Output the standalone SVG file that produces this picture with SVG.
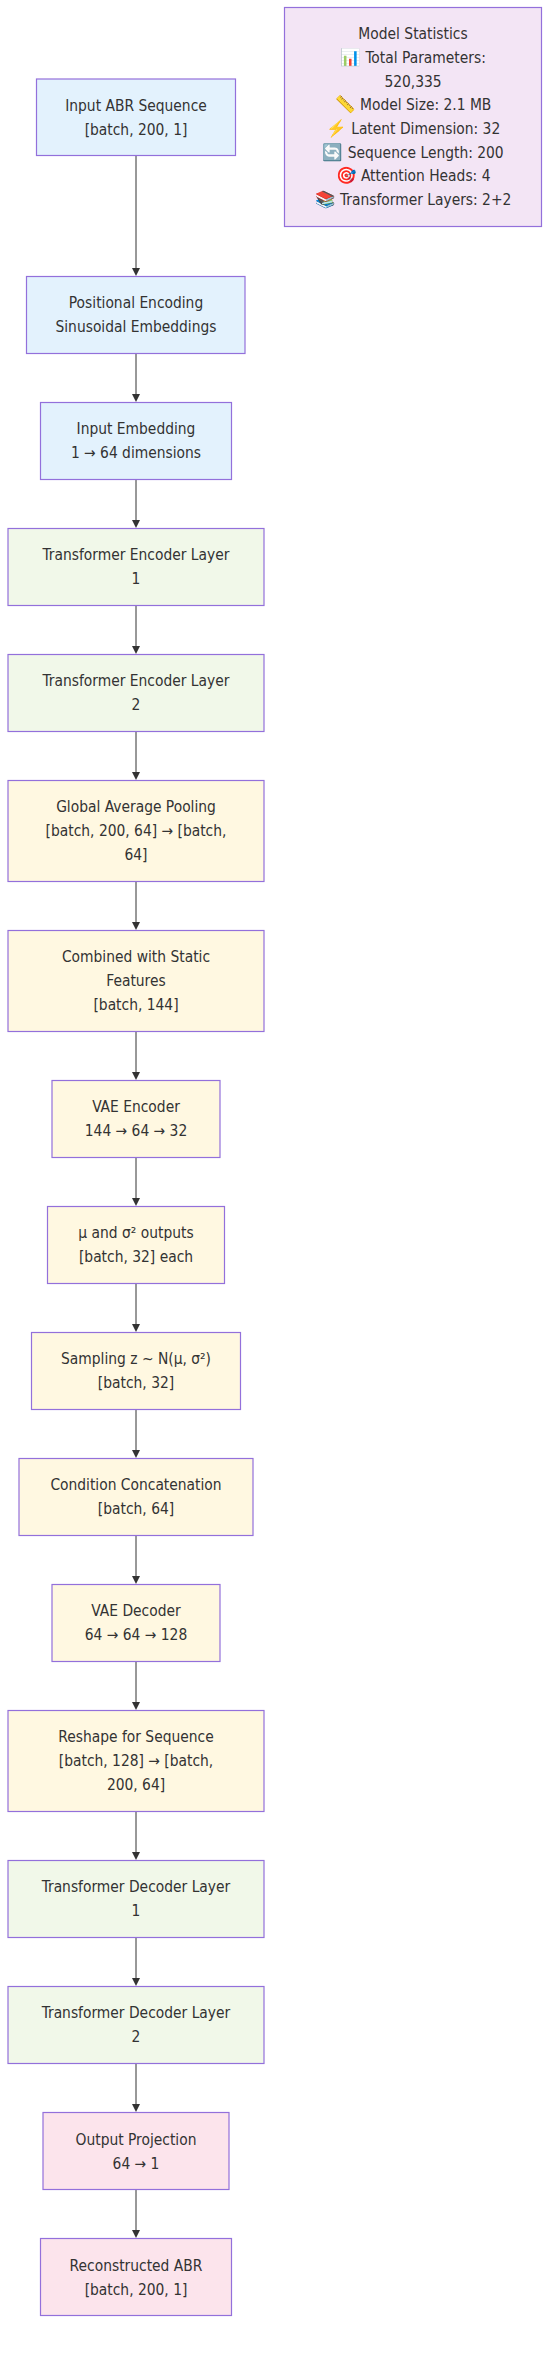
<svg xmlns="http://www.w3.org/2000/svg" width="557" height="2358" viewBox="0 0 557 2358">
<style>
text{font-family:"DejaVu Sans Condensed","DejaVu Sans",sans-serif;font-stretch:condensed;font-size:15.4px;fill:#333;text-anchor:middle}
.i{font-size:16.5px}
.n{stroke:#9370DB;stroke-width:1.2}
.b{fill:#e3f2fd}.g{fill:#f1f8e9}.y{fill:#fff8e1}.p{fill:#fce4ec}.m{fill:#f3e5f5}
.e{fill:none;stroke:#333;stroke-width:1}
.h{fill:#333}
</style>
<g id="connectors">
<path class="e" d="M136 156V272"/><path class="e" d="M136 353V398"/><path class="e" d="M136 479V524"/><path class="e" d="M136 605V650"/><path class="e" d="M136 731V776"/><path class="e" d="M136 881V926"/><path class="e" d="M136 1031V1076"/><path class="e" d="M136 1157V1202"/><path class="e" d="M136 1283V1328"/><path class="e" d="M136 1409V1454"/><path class="e" d="M136 1535V1580"/><path class="e" d="M136 1661V1706"/><path class="e" d="M136 1811V1856"/><path class="e" d="M136 1937V1982"/><path class="e" d="M136 2063V2108"/><path class="e" d="M136 2189V2234"/>
<path class="h" d="M132 268L140 268L136 276z"/><path class="h" d="M132 394L140 394L136 402z"/><path class="h" d="M132 520L140 520L136 528z"/><path class="h" d="M132 646L140 646L136 654z"/><path class="h" d="M132 772L140 772L136 780z"/><path class="h" d="M132 922L140 922L136 930z"/><path class="h" d="M132 1072L140 1072L136 1080z"/><path class="h" d="M132 1198L140 1198L136 1206z"/><path class="h" d="M132 1324L140 1324L136 1332z"/><path class="h" d="M132 1450L140 1450L136 1458z"/><path class="h" d="M132 1576L140 1576L136 1584z"/><path class="h" d="M132 1702L140 1702L136 1710z"/><path class="h" d="M132 1852L140 1852L136 1860z"/><path class="h" d="M132 1978L140 1978L136 1986z"/><path class="h" d="M132 2104L140 2104L136 2112z"/><path class="h" d="M132 2230L140 2230L136 2238z"/>
</g>
<g id="input"><rect class="n b" x="36.5" y="79" width="199" height="76.5"/><text x="136" y="110.5">Input ABR Sequence</text><text x="136" y="134.5">[batch, 200, 1]</text></g>
<g id="positional"><rect class="n b" x="26.5" y="276.5" width="218.5" height="77"/><text x="136" y="308">Positional Encoding</text><text x="136" y="332">Sinusoidal Embeddings</text></g>
<g id="embedding"><rect class="n b" x="40.5" y="402.5" width="191" height="77"/><text x="136" y="434">Input Embedding</text><text x="136" y="458">1 → 64 dimensions</text></g>
<g id="enc1"><rect class="n g" x="8" y="528.5" width="256" height="77"/><text x="136" y="560">Transformer Encoder Layer</text><text x="136" y="584">1</text></g>
<g id="enc2"><rect class="n g" x="8" y="654.5" width="256" height="77"/><text x="136" y="686">Transformer Encoder Layer</text><text x="136" y="710">2</text></g>
<g id="pooling"><rect class="n y" x="8" y="780.5" width="256" height="101"/><text x="136" y="812">Global Average Pooling</text><text x="136" y="836">[batch, 200, 64] → [batch,</text><text x="136" y="860">64]</text></g>
<g id="combined"><rect class="n y" x="8" y="930.5" width="256" height="101"/><text x="136" y="962">Combined with Static</text><text x="136" y="986">Features</text><text x="136" y="1010">[batch, 144]</text></g>
<g id="vae-encoder"><rect class="n y" x="52" y="1080.5" width="168" height="77"/><text x="136" y="1112">VAE Encoder</text><text x="136" y="1136">144 → 64 → 32</text></g>
<g id="mu-sigma"><rect class="n y" x="47.5" y="1206.5" width="177" height="77"/><text x="136" y="1238">μ and σ² outputs</text><text x="136" y="1262">[batch, 32] each</text></g>
<g id="sampling"><rect class="n y" x="31.5" y="1332.5" width="209" height="77"/><text x="136" y="1364">Sampling z ~ N(μ, σ²)</text><text x="136" y="1388">[batch, 32]</text></g>
<g id="condition"><rect class="n y" x="19" y="1458.5" width="234" height="77"/><text x="136" y="1490">Condition Concatenation</text><text x="136" y="1514">[batch, 64]</text></g>
<g id="vae-decoder"><rect class="n y" x="52" y="1584.5" width="168" height="77"/><text x="136" y="1616">VAE Decoder</text><text x="136" y="1640">64 → 64 → 128</text></g>
<g id="reshape"><rect class="n y" x="8" y="1710.5" width="256" height="101"/><text x="136" y="1742">Reshape for Sequence</text><text x="136" y="1766">[batch, 128] → [batch,</text><text x="136" y="1790">200, 64]</text></g>
<g id="dec1"><rect class="n g" x="8" y="1860.5" width="256" height="77"/><text x="136" y="1892">Transformer Decoder Layer</text><text x="136" y="1916">1</text></g>
<g id="dec2"><rect class="n g" x="8" y="1986.5" width="256" height="77"/><text x="136" y="2018">Transformer Decoder Layer</text><text x="136" y="2042">2</text></g>
<g id="output"><rect class="n p" x="43" y="2112.5" width="186" height="77"/><text x="136" y="2145">Output Projection</text><text x="136" y="2169">64 → 1</text></g>
<g id="reconstructed"><rect class="n p" x="40.5" y="2238.5" width="191" height="77"/><text x="136" y="2271">Reconstructed ABR</text><text x="136" y="2295">[batch, 200, 1]</text></g>
<g id="stats"><rect class="n m" x="284.5" y="7.5" width="257" height="219"/>
<text x="413" y="39">Model Statistics</text><text x="413" y="63"><tspan class="i">📊</tspan> Total Parameters:</text><text x="413" y="87">520,335</text><text x="413" y="110"><tspan class="i">📏</tspan> Model Size: 2.1 MB</text><text x="413" y="134"><tspan class="i">⚡️</tspan> Latent Dimension: 32</text><text x="413" y="158"><tspan class="i">🔄</tspan> Sequence Length: 200</text><text x="413" y="181"><tspan class="i">🎯</tspan> Attention Heads: 4</text><text x="413" y="205"><tspan class="i">📚</tspan> Transformer Layers: 2+2</text></g>
</svg>
